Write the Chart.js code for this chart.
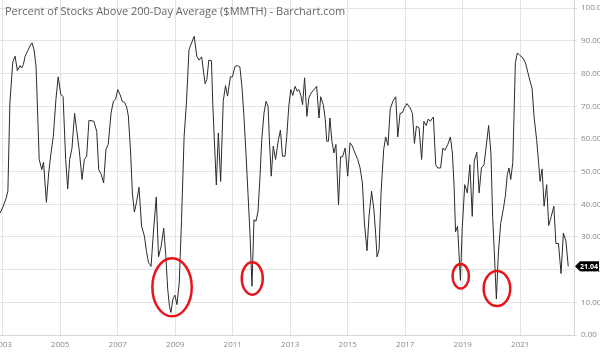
<!DOCTYPE html>
<html>
<head>
<meta charset="utf-8">
<script src="https://cdn.jsdelivr.net/npm/chart.js@4.4.1/dist/chart.umd.min.js"></script>
<style>
  html, body { margin: 0; padding: 0; background: #fff; }
  #wrap { width: 600px; height: 352px; }
</style>
</head>
<body>
<div id="wrap"><canvas id="canvas" width="600" height="352"></canvas></div>
<script>
// data (decimal years / percent)
const years = [
  2002.91, 2003.02, 2003.12, 2003.18, 2003.25, 2003.35, 2003.43, 2003.51, 2003.60, 2003.66,
  2003.72, 2003.78, 2003.86, 2003.95, 2004.02, 2004.09, 2004.16, 2004.27, 2004.36, 2004.42,
  2004.52, 2004.60, 2004.68, 2004.76, 2004.85, 2004.93, 2005.02, 2005.10, 2005.19, 2005.26,
  2005.33, 2005.41, 2005.50, 2005.57, 2005.66, 2005.76, 2005.84, 2005.92, 2006.00, 2006.17,
  2006.27, 2006.34, 2006.43, 2006.51, 2006.59, 2006.67, 2006.77, 2006.85, 2006.93, 2007.00,
  2007.08, 2007.16, 2007.24, 2007.31, 2007.37, 2007.45, 2007.51, 2007.58, 2007.66, 2007.74,
  2007.83, 2007.93, 2008.00, 2008.07, 2008.16, 2008.24, 2008.34, 2008.42, 2008.51, 2008.60,
  2008.67, 2008.74, 2008.80, 2008.85, 2008.92, 2008.99, 2009.06, 2009.14, 2009.22, 2009.31,
  2009.39, 2009.48, 2009.57, 2009.66, 2009.75, 2009.83, 2009.92, 2009.99, 2010.04, 2010.10,
  2010.17, 2010.26, 2010.31, 2010.37, 2010.43, 2010.50, 2010.58, 2010.67, 2010.75, 2010.82,
  2010.92, 2010.99, 2011.08, 2011.17, 2011.25, 2011.32, 2011.39, 2011.46, 2011.53, 2011.60,
  2011.67, 2011.74, 2011.81, 2011.88, 2011.95, 2012.01, 2012.09, 2012.16, 2012.23, 2012.27,
  2012.34, 2012.41, 2012.49, 2012.59, 2012.66, 2012.73, 2012.82, 2012.88, 2012.95, 2013.02,
  2013.09, 2013.17, 2013.24, 2013.30, 2013.37, 2013.43, 2013.50, 2013.58, 2013.65, 2013.73,
  2013.83, 2013.92, 2014.00, 2014.06, 2014.15, 2014.22, 2014.27, 2014.33, 2014.38, 2014.45,
  2014.52, 2014.59, 2014.68, 2014.75, 2014.82, 2014.91, 2015.00, 2015.08, 2015.16, 2015.25,
  2015.35, 2015.43, 2015.51, 2015.58, 2015.67, 2015.74, 2015.83, 2015.91, 2015.97, 2016.02,
  2016.09, 2016.16, 2016.25, 2016.32, 2016.40, 2016.48, 2016.57, 2016.67, 2016.74, 2016.82,
  2016.90, 2016.97, 2017.06, 2017.17, 2017.25, 2017.32, 2017.39, 2017.48, 2017.57, 2017.65,
  2017.73, 2017.80, 2017.87, 2017.98, 2018.06, 2018.13, 2018.23, 2018.31, 2018.38, 2018.48,
  2018.57, 2018.64, 2018.70, 2018.75, 2018.82, 2018.87, 2018.92, 2018.98, 2019.07, 2019.16,
  2019.25, 2019.33, 2019.40, 2019.49, 2019.57, 2019.65, 2019.74, 2019.81, 2019.90, 2019.98,
  2020.04, 2020.10, 2020.17, 2020.24, 2020.32, 2020.41, 2020.48, 2020.55, 2020.61, 2020.67,
  2020.74, 2020.78, 2020.83, 2020.90, 2020.99, 2021.09, 2021.18, 2021.27, 2021.34, 2021.41,
  2021.48, 2021.57, 2021.64, 2021.69, 2021.76, 2021.83, 2021.92, 2021.99, 2022.08, 2022.17,
  2022.24, 2022.33, 2022.42, 2022.50, 2022.59, 2022.67
];
const percent = [
  37.3, 39.4, 41.9, 44.0, 71.0, 83.5, 85.3, 80.9, 82.4, 81.7,
  82.8, 85.3, 86.8, 88.4, 89.4, 87.3, 82.2, 53.7, 50.6, 52.9,
  40.6, 49.6, 55.7, 60.8, 72.0, 79.0, 73.6, 73.0, 53.7, 44.7,
  53.7, 57.2, 67.8, 62.9, 56.7, 47.6, 53.7, 54.7, 65.7, 65.4,
  62.3, 50.6, 49.1, 46.5, 56.7, 58.3, 68.0, 71.5, 72.2, 75.1,
  73.6, 71.5, 71.2, 69.8, 67.0, 55.7, 43.5, 37.6, 40.9, 45.2,
  33.3, 30.2, 25.6, 22.2, 21.0, 31.2, 42.2, 23.9, 27.1, 32.7,
  24.6, 13.9, 8.8, 6.9, 11.0, 12.2, 9.3, 15.9, 35.3, 60.8,
  71.0, 87.3, 89.4, 91.4, 85.3, 84.1, 85.1, 80.2, 76.9, 78.2,
  84.1, 83.9, 70.0, 57.8, 45.9, 61.8, 47.0, 71.5, 76.3, 73.1,
  79.0, 79.0, 82.2, 82.4, 82.0, 76.1, 66.9, 55.7, 43.5, 31.2,
  14.9, 35.3, 34.8, 37.9, 48.6, 59.8, 68.0, 71.5, 70.0, 60.8,
  48.6, 57.8, 53.7, 59.8, 62.7, 54.7, 54.7, 60.8, 70.0, 75.1,
  73.3, 76.1, 74.6, 75.1, 73.3, 70.5, 78.7, 66.9, 72.6, 74.1,
  75.1, 76.1, 66.4, 72.9, 70.5, 65.9, 59.3, 59.3, 66.4, 59.3,
  55.7, 58.3, 39.9, 54.5, 54.5, 57.2, 48.6, 58.8, 57.8, 55.7,
  53.7, 51.1, 46.5, 34.3, 25.8, 36.3, 44.0, 38.4, 31.2, 23.9,
  26.1, 43.5, 56.7, 60.6, 58.0, 69.2, 71.5, 72.9, 60.6, 67.8,
  68.0, 69.5, 70.8, 69.5, 67.8, 58.6, 63.9, 63.4, 53.7, 65.4,
  64.1, 66.1, 65.4, 66.7, 52.1, 51.1, 51.1, 57.2, 56.5, 58.3,
  60.6, 55.7, 45.5, 31.6, 33.3, 25.1, 16.7, 32.2, 46.0, 43.5,
  52.1, 36.3, 53.2, 55.9, 43.5, 51.1, 52.1, 57.2, 64.1, 55.7,
  36.3, 25.1, 11.0, 25.1, 34.1, 38.4, 42.4, 49.1, 51.1, 47.6,
  52.7, 65.9, 83.3, 86.3, 85.5, 84.8, 83.3, 80.2, 77.7, 75.6,
  66.9, 59.8, 52.7, 47.0, 50.8, 39.4, 46.0, 33.5, 36.3, 39.4,
  28.0, 28.0, 18.8, 31.2, 28.7, 21.04
];
const yearTicks = [2003, 2005, 2007, 2009, 2011, 2013, 2015, 2017, 2019, 2021];
const percentTicks = [0, 10, 20, 30, 40, 50, 60, 70, 80, 90, 100];

// red hand-drawn circles: [year, percent, half-width in years, half-height in percent]
const circles = [
  [2008.89, 14.6, 0.685, 8.9],
  [2011.68, 17.3, 0.365, 4.95],
  [2018.93, 18.0, 0.285, 3.76],
  [2020.19, 14.2, 0.463, 5.35]
];

const title = 'Percent of Stocks Above 200-Day Average ($MMTH) - Barchart.com';
const font = '"Open Sans", "DejaVu Sans", sans-serif';

// title, last value tag, circles
const extras = {
  id: 'extras',
  afterDraw(chart) {
    const ctx = chart.ctx;
    const xs = chart.scales.x;
    const ys = chart.scales.y;
    ctx.save();

    ctx.font = '11px ' + font;
    ctx.fillStyle = '#666';
    ctx.textBaseline = 'middle';
    ctx.textAlign = 'left';
    ctx.fillText(title, 5, 12);

    ctx.strokeStyle = '#e8141c';
    ctx.lineWidth = 2.5;
    circles.forEach(function (c) {
      const cx = xs.getPixelForValue(c[0]);
      const cy = ys.getPixelForValue(c[1]);
      const rx = Math.abs(xs.getPixelForValue(c[0] + c[2]) - cx);
      const ry = Math.abs(ys.getPixelForValue(c[1] + c[3]) - cy);
      ctx.beginPath();
      ctx.ellipse(cx, cy, rx, ry, 0, 0, Math.PI * 2);
      ctx.stroke();
    });

    const last = percent[percent.length - 1];
    const ty = ys.getPixelForValue(last);
    const tx = chart.chartArea.right + 1;
    ctx.fillStyle = '#000';
    ctx.beginPath();
    ctx.moveTo(tx, ty);
    ctx.lineTo(tx + 5, ty - 5);
    ctx.lineTo(599, ty - 5);
    ctx.lineTo(599, ty + 5);
    ctx.lineTo(tx + 5, ty + 5);
    ctx.closePath();
    ctx.fill();
    ctx.fillStyle = '#fff';
    ctx.font = 'bold 7px ' + font;
    ctx.textAlign = 'center';
    ctx.fillText(last.toFixed(2), tx + 14, ty + 0.5);
    ctx.restore();
  }
};

const config = {
  type: 'line',
  data: {
    datasets: [
      {
        data: years.map(function (x, i) { return { x: x, y: percent[i] }; }),
        borderColor: '#2b2b2b',
        borderWidth: 1,
        pointRadius: 0,
        tension: 0,
        fill: false,
      },
    ],
  },
  options: {
    responsive: false,
    animation: false,
    layout: { padding: 0 },
    plugins: {
      legend: { display: false },
      tooltip: { enabled: false },
    },
    scales: {
      x: {
        type: 'linear',
        min: 2002.906,
        max: 2022.87,
        afterBuildTicks: function (scale) {
          scale.ticks = yearTicks.map(function (v) { return { value: v }; });
        },
        afterFit: function (scale) {
          scale.height = 17;
          scale.paddingLeft = 0;
          scale.paddingRight = 0;
        },
        grid: { color: '#e3e3e3', drawTicks: false },
        border: { color: '#d5d5d5' },
        ticks: {
          padding: 5,
          color: '#888',
          font: { size: 8, family: font },
          maxRotation: 0,
          callback: function (v) { return String(v); },
        },
      },
      y: {
        position: 'right',
        min: 0,
        max: 102.5,
        afterBuildTicks: function (scale) {
          scale.ticks = percentTicks.map(function (v) { return { value: v }; });
        },
        afterFit: function (scale) {
          scale.width = 26;
          scale.paddingTop = 0;
          scale.paddingBottom = 0;
        },
        grid: { color: '#e3e3e3', tickLength: 3 },
        border: { color: '#d5d5d5' },
        ticks: {
          padding: 4,
          color: '#888',
          font: { size: 8, family: font },
          callback: function (v) { return v.toFixed(2); },
        },
      },
    },
  },
  plugins: [extras],
};

let myChart = new Chart(document.getElementById('canvas'), config);
</script>
</body>
</html>
